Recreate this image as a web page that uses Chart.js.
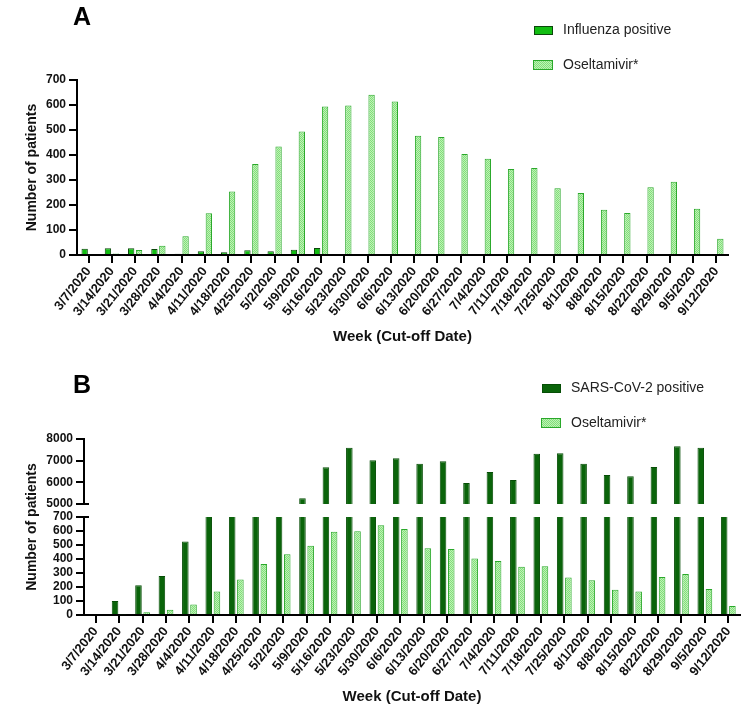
<!DOCTYPE html>
<html><head><meta charset="utf-8">
<script src="https://cdn.jsdelivr.net/npm/chart.js@4.4.0/dist/chart.umd.min.js"></script>
<style>
html,body{margin:0;padding:0;background:#fff;}
#wrap{position:relative;width:756px;height:715px;overflow:hidden;}
canvas{position:absolute;left:0;}
</style></head><body>
<div id="wrap">
<canvas id="cA" width="756" height="360" style="top:0px"></canvas>
<canvas id="cBU" width="756" height="355" style="top:360px"></canvas>
<canvas id="cBL" width="756" height="355" style="top:360px"></canvas>
</div>
<script>
// ---------- data ----------
const weeks = ['3/7/2020','3/14/2020','3/21/2020','3/28/2020','4/4/2020','4/11/2020','4/18/2020','4/25/2020',
  '5/2/2020','5/9/2020','5/16/2020','5/23/2020','5/30/2020','6/6/2020','6/13/2020','6/20/2020','6/27/2020',
  '7/4/2020','7/11/2020','7/18/2020','7/25/2020','8/1/2020','8/8/2020','8/15/2020','8/22/2020','8/29/2020',
  '9/5/2020','9/12/2020'];
const influenzaPositive = [25, 27, 27, 24, 5, 15, 11, 19, 15, 21, 28, 0, 0, 0, 0, 0, 0, 0, 0, 0, 0, 0, 0, 0, 0, 0, 0, 0];
const oseltamivir = [0, 6, 20, 37, 75, 167, 254, 364, 434, 494, 594, 598, 641, 614, 477, 472, 404, 385, 344, 348, 267, 248, 181, 168, 271, 293, 185, 65];
const sarsCov2Positive = [0, 100, 213, 279, 525, 1500, 2500, 3500, 4500, 5263, 6693, 7600, 7017, 7108, 6860, 6969, 5969,
  6477, 6108, 7323, 7338, 6860, 6338, 6277, 6707, 7662, 7600, 3000];
const yRangeA = [0, 700, 100];
const yRangeBLower = [0, 700, 100];
const yRangeBUpper = [5000, 8000, 1000];
const panelLabels = ['A', 'B'];
const legendA = ['Influenza positive', 'Oseltamivir*'];
const legendB = ['SARS-CoV-2 positive', 'Oseltamivir*'];
const xTitle = 'Week (Cut-off Date)';
const yTitle = 'Number of patients';

// ---------- styles ----------
const FONT = '"Liberation Sans", Arial, Helvetica, sans-serif';
Chart.defaults.font.family = FONT;
Chart.defaults.color = '#111';

function makePattern() {
  const c = document.createElement('canvas'); c.width = 2; c.height = 2;
  const x = c.getContext('2d');
  x.fillStyle = '#bdf3b5'; x.fillRect(0, 0, 2, 2);
  x.fillStyle = '#82dd7a'; x.fillRect(0, 0, 1, 1); x.fillRect(1, 1, 1, 1);
  return x.createPattern(c, 'repeat');
}
const oselFill = makePattern();
const oselBorder = '#2aa82a';
const fluFill = '#12bd12';
const fluBorder = '#0b470b';
const sarsFill = '#0a640a';
const sarsBorder = '#064e06';

const barPct = 0.8, catPct = 0.68;

function xScale(height, titlePadBottom, showTitle) {
  return {
    type: 'category',
    offset: true,
    border: { display: true, color: '#000', width: 2 },
    grid: { display: true, drawOnChartArea: false, offset: false, color: '#000', lineWidth: 2, tickLength: 8 },
    ticks: { autoSkip: false, minRotation: 52, maxRotation: 52, padding: 1,
      font: { size: 13, weight: 'bold' }, color: '#111' },
    title: { display: showTitle, text: xTitle, font: { size: 15, weight: 'bold' }, color: '#111',
      padding: { top: 0, bottom: titlePadBottom } },
    afterFit: s => { s.height = height; }
  };
}
function yScale(range, width, showTitle) {
  return {
    min: range[0], max: range[1],
    border: { display: true, color: '#000', width: 2 },
    grid: { display: true, drawOnChartArea: false, color: '#000', lineWidth: 2, tickLength: 8 },
    ticks: { stepSize: range[2], autoSkip: false, padding: 3, font: { size: 12, weight: 'bold' }, color: '#111',
      callback: v => String(v) },
    title: { display: showTitle, text: yTitle, font: { size: 14, weight: 'bold' }, color: '#111',
      padding: { top: 23.6, bottom: 0 } },
    afterFit: s => { s.width = width; }
  };
}

function legendPlugin(labels, textX, boxes) {
  return {
    id: 'customLegend',
    afterDraw(chart) {
      const ctx = chart.ctx;
      ctx.save();
      labels.forEach((lab, i) => {
        const ds = chart.data.datasets[i];
        const b = boxes[i];
        ctx.fillStyle = ds.backgroundColor;
        ctx.fillRect(b[0], b[1], b[2], b[3]);
        ctx.strokeStyle = ds.borderColor; ctx.lineWidth = 1;
        ctx.strokeRect(b[0] + 0.5, b[1] + 0.5, b[2] - 1, b[3] - 1);
        ctx.fillStyle = '#222';
        ctx.font = '14px ' + FONT;
        ctx.textBaseline = 'middle'; ctx.textAlign = 'left';
        ctx.fillText(lab, textX, b[1] + b[3] / 2);
      });
      ctx.restore();
    }
  };
}
function panelLabelPlugin(text, x, y) {
  return {
    id: 'panelLabel',
    afterDraw(chart) {
      const ctx = chart.ctx; ctx.save();
      ctx.fillStyle = '#000'; ctx.font = 'bold 25px ' + FONT;
      ctx.textAlign = 'left'; ctx.textBaseline = 'alphabetic';
      ctx.fillText(text, x, y); ctx.restore();
    }
  };
}

// ---------- Panel A ----------
const chartA = new Chart(document.getElementById('cA'), {
  type: 'bar',
  data: {
    labels: weeks,
    datasets: [
      { label: legendA[0], data: influenzaPositive, backgroundColor: fluFill, borderColor: fluBorder, borderWidth: 1,
        barPercentage: barPct, categoryPercentage: catPct },
      { label: legendA[1], data: oseltamivir, backgroundColor: oselFill, borderColor: oselBorder, borderWidth: 1,
        barPercentage: barPct, categoryPercentage: catPct }
    ]
  },
  options: {
    responsive: false, animation: false, devicePixelRatio: 1,
    layout: { padding: { top: 80, right: 28, left: 0, bottom: 0 } },
    plugins: { legend: { display: false }, tooltip: { enabled: false } },
    scales: { x: xScale(105, 14, true), y: yScale(yRangeA, 77, true) }
  },
  plugins: [
    legendPlugin(legendA, 563, [[534, 26, 19, 9], [533, 60, 20, 10]]),
    panelLabelPlugin(panelLabels[0], 73, 25)
  ]
});

// ---------- Panel B ----------
function bDatasets() {
  return [
    { label: legendB[0], data: sarsCov2Positive, backgroundColor: sarsFill, borderColor: sarsBorder, borderWidth: 1,
      barPercentage: barPct, categoryPercentage: 0.7, clip: 0 },
    { label: legendB[1], data: oseltamivir, backgroundColor: oselFill, borderColor: oselBorder, borderWidth: 1,
      barPercentage: barPct, categoryPercentage: 0.7, clip: 0 }
  ];
}

const capPlugin = (where) => ({
  id: 'cap',
  afterDraw(chart) {
    const a = chart.chartArea, ctx = chart.ctx;
    ctx.save(); ctx.strokeStyle = '#000'; ctx.lineWidth = 2;
    const y = where === 'bottom' ? a.bottom : a.top;
    ctx.beginPath(); ctx.moveTo(a.left - 1, y); ctx.lineTo(a.left + 5, y); ctx.stroke();
    ctx.restore();
  }
});

const chartBU = new Chart(document.getElementById('cBU'), {
  type: 'bar',
  data: { labels: weeks, datasets: bDatasets() },
  options: {
    responsive: false, animation: false, devicePixelRatio: 1,
    layout: { padding: { top: 79, right: 16, left: 0, bottom: 211 } },
    plugins: { legend: { display: false }, tooltip: { enabled: false } },
    scales: {
      x: { type: 'category', offset: true, display: false },
      y: yScale(yRangeBUpper, 84, false)
    }
  },
  plugins: [
    legendPlugin(legendB, 571, [[542, 24, 19, 9], [541, 58, 20, 10]]),
    panelLabelPlugin(panelLabels[1], 73, 33),
    capPlugin('bottom')
  ]
});

const chartBL = new Chart(document.getElementById('cBL'), {
  type: 'bar',
  data: { labels: weeks, datasets: bDatasets() },
  options: {
    responsive: false, animation: false, devicePixelRatio: 1,
    layout: { padding: { top: 157, right: 16, left: 0, bottom: 0 } },
    plugins: { legend: { display: false }, tooltip: { enabled: false } },
    scales: { x: xScale(100, 9, true), y: yScale(yRangeBLower, 84, false) }
  },
  plugins: [
    capPlugin('top'),
    {
      id: 'yTitleB',
      afterDraw(chart) {
        const ctx = chart.ctx;
        const top = chartBU.chartArea.top; // same canvas origin
        const mid = (top + chart.chartArea.bottom) / 2;
        ctx.save();
        ctx.translate(32, mid); ctx.rotate(-Math.PI / 2);
        ctx.font = 'bold 14px ' + FONT; ctx.fillStyle = '#111';
        ctx.textAlign = 'center'; ctx.textBaseline = 'middle';
        ctx.fillText(yTitle, 0, 0);
        ctx.restore();
      }
    }
  ]
});
</script>
</body></html>
